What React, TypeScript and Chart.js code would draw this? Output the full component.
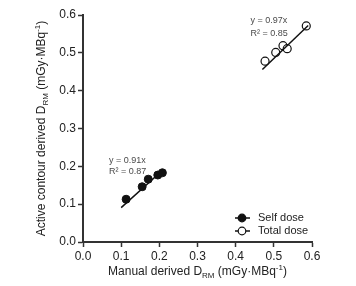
import { useEffect, useRef } from "react";
import { Chart, registerables } from "chart.js";

Chart.register(...registerables);

// Self dose and total dose: manual vs active-contour derived D_RM (mGy·MBq-1)
const selfX = [0.113, 0.155, 0.171, 0.196, 0.208];
const selfY = [0.113, 0.146, 0.166, 0.177, 0.183];
const totalX = [0.477, 0.505, 0.524, 0.535, 0.585];
const totalY = [0.478, 0.501, 0.519, 0.511, 0.571];

// Fitted lines through the origin
const selfSlope = 0.91;
const selfR2 = "0.87";
const totalSlope = 0.97;
const totalR2 = "0.85";
const selfFitX = [0.1, 0.21];
const totalFitX = [0.47, 0.59];

const seriesLabels = ["Self dose", "Total dose"];
const axisMin = 0;
const axisMax = 0.6;
const axisStep = 0.1;

const FONT = "'Liberation Sans', Arial, sans-serif";
const INK = "#222";

type Part = { t: string; k?: "sub" | "sup" };

function drawRich(ctx: CanvasRenderingContext2D, parts: Part[], x: number, y: number, size: number) {
  const small = Math.round(size * 0.7);
  const widths = parts.map((p) => {
    ctx.font = `${p.k ? small : size}px ${FONT}`;
    return ctx.measureText(p.t).width;
  });
  const total = widths.reduce((a, b) => a + b, 0);
  let cx = x - total / 2;
  ctx.textBaseline = "middle";
  ctx.textAlign = "left";
  parts.forEach((p, i) => {
    ctx.font = `${p.k ? small : size}px ${FONT}`;
    const dy = p.k === "sub" ? size * 0.3 : p.k === "sup" ? -size * 0.38 : 0;
    ctx.fillText(p.t, cx, y + dy);
    cx += widths[i];
  });
}

const overlay = {
  id: "overlay",
  afterDraw(chart: any) {
    const { ctx, chartArea, scales } = chart;
    const xs = scales.x;
    const ys = scales.y;
    ctx.save();
    ctx.fillStyle = INK;

    // axis titles with sub/superscripts
    const xTitle: Part[] = [
      { t: "Manual derived D" },
      { t: "RM", k: "sub" },
      { t: " (mGy·MBq" },
      { t: "-1", k: "sup" },
      { t: ")" },
    ];
    drawRich(ctx, xTitle, (chartArea.left + chartArea.right) / 2, 272, 12);

    const yTitle: Part[] = [
      { t: "Active contour derived D" },
      { t: "RM", k: "sub" },
      { t: " (mGy·MBq" },
      { t: "-1", k: "sup" },
      { t: ")" },
    ];
    ctx.save();
    ctx.translate(42, (chartArea.top + chartArea.bottom) / 2);
    ctx.rotate(-Math.PI / 2);
    drawRich(ctx, yTitle, 0, 0, 12);
    ctx.restore();

    // fit annotations
    ctx.fillStyle = "#4a4a4a";
    ctx.font = `9px ${FONT}`;
    ctx.textAlign = "left";
    ctx.textBaseline = "middle";
    const ax1 = xs.getPixelForValue(0.068);
    const ay1 = ys.getPixelForValue(0.215);
    ctx.fillText(`y = ${selfSlope.toFixed(2)}x`, ax1, ay1);
    ctx.fillText(`R² = ${selfR2}`, ax1, ay1 + 11);
    const ax2 = xs.getPixelForValue(0.439);
    const ay2 = ys.getPixelForValue(0.585);
    ctx.fillText(`y = ${totalSlope.toFixed(2)}x`, ax2, ay2);
    ctx.fillText(`R² = ${totalR2}`, ax2, ay2 + 13);

    // legend in the lower right corner
    const mx = chartArea.right - 70;
    const tx = chartArea.right - 54;
    const rows = [chartArea.bottom - 24, chartArea.bottom - 11];
    rows.forEach((ry, i) => {
      ctx.strokeStyle = "#111";
      ctx.lineWidth = 1.5;
      ctx.beginPath();
      ctx.moveTo(mx - 7, ry);
      ctx.lineTo(mx + 8, ry);
      ctx.stroke();
      ctx.beginPath();
      ctx.arc(mx, ry, 3.8, 0, Math.PI * 2);
      ctx.fillStyle = i === 0 ? "#111" : "#fff";
      ctx.fill();
      ctx.lineWidth = 1.2;
      ctx.stroke();
      ctx.fillStyle = INK;
      ctx.font = `11px ${FONT}`;
      ctx.textAlign = "left";
      ctx.textBaseline = "middle";
      ctx.fillText(seriesLabels[i], tx, ry);
    });
    ctx.restore();
  },
};

export default function App() {
  const ref = useRef<HTMLCanvasElement | null>(null);

  useEffect(() => {
    if (!ref.current) return;
    const pts = (xs: number[], ys: number[]) => xs.map((x, i) => ({ x, y: ys[i] }));
    const fit = (xs: number[], m: number) => xs.map((x) => ({ x, y: m * x }));

    const axisCommon = {
      type: "linear" as const,
      min: axisMin,
      max: axisMax,
      grid: {
        display: true,
        drawOnChartArea: false,
        drawTicks: true,
        tickLength: 5,
        tickWidth: 1.5,
        color: "#333",
      },
      border: { display: true, color: "#333", width: 2 },
      ticks: {
        stepSize: axisStep,
        color: INK,
        font: { family: FONT, size: 12 },
        callback: (v: any) => Number(v).toFixed(1),
      },
      title: { display: false },
    };

    const chart = new Chart(ref.current, {
      type: "scatter",
      data: {
        datasets: [
          {
            label: "self fit",
            type: "line",
            data: fit(selfFitX, selfSlope),
            borderColor: "#111",
            borderWidth: 1.5,
            pointRadius: 0,
            showLine: true,
          },
          {
            label: "total fit",
            type: "line",
            data: fit(totalFitX, totalSlope),
            borderColor: "#111",
            borderWidth: 1.5,
            pointRadius: 0,
            showLine: true,
          },
          {
            label: seriesLabels[0],
            data: pts(selfX, selfY),
            pointRadius: 4,
            pointBackgroundColor: "#111",
            pointBorderColor: "#111",
            pointBorderWidth: 1,
          },
          {
            label: seriesLabels[1],
            data: pts(totalX, totalY),
            pointRadius: 4,
            pointBackgroundColor: "#fff",
            pointBorderColor: "#111",
            pointBorderWidth: 1.2,
          },
        ],
      },
      options: {
        responsive: false,
        animation: false,
        layout: { padding: { left: 8, right: 44, top: 15, bottom: 0 } },
        plugins: { legend: { display: false }, tooltip: { enabled: false } },
        scales: {
          x: {
            ...axisCommon,
            position: "bottom",
            ticks: { ...axisCommon.ticks, padding: 2, maxRotation: 0 },
            afterFit: (s: any) => {
              s.height = 44;
            },
          },
          y: {
            ...axisCommon,
            position: "left",
            ticks: { ...axisCommon.ticks, padding: 2 },
            afterFit: (s: any) => {
              s.width = 75;
            },
          },
        },
      },
      plugins: [overlay],
    } as any);

    return () => chart.destroy();
  }, []);

  return (
    <div style={{ position: "fixed", left: 0, top: 0, width: 356, height: 286, background: "#fff" }}>
      <canvas ref={ref} width={356} height={286} style={{ display: "block" }} />
    </div>
  );
}
